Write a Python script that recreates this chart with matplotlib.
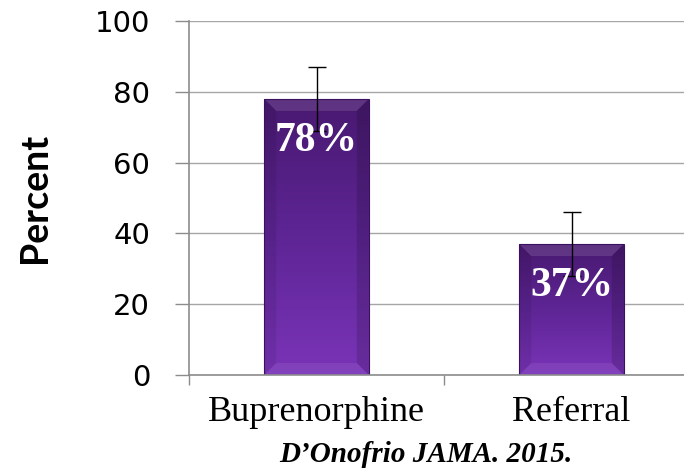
import numpy as np
import matplotlib
matplotlib.use("Agg")
import matplotlib.pyplot as plt
from matplotlib.patches import Polygon
from matplotlib.colors import LinearSegmentedColormap

# data
categories = ["Buprenorphine", "Referral"]
percent = [78, 37]
errors = [9, 9]
y_ticks = [0, 20, 40, 60, 80, 100]
source = "D\u2019Onofrio JAMA. 2015."

fig = plt.figure(figsize=(6.84, 4.74), dpi=100)
ax = fig.add_axes([189 / 684, 99 / 474, 510 / 684, 354 / 474])

x = np.arange(len(categories))
bar_width = 0.41
bars = ax.bar(x, percent, width=bar_width, color="#5e2490", edgecolor="#3a1060",
              linewidth=0.8, zorder=2)

ax.set_xlim(-0.5, 1.5)
ax.set_ylim(0, 100)

# purple vertical gradient inside each bar, dark at top, light at bottom
cmap = LinearSegmentedColormap.from_list("purp", ["#481970", "#5e2595", "#7a34b8"])
grad = np.linspace(0, 1, 256).reshape(-1, 1)
for b in bars:
    x0, w, h = b.get_x(), b.get_width(), b.get_height()
    im = ax.imshow(grad, cmap=cmap, aspect="auto", extent=(x0, x0 + w, 0, h),
                   origin="upper", zorder=2.1)
    im.set_clip_path(b)
    # bevel edges
    dx = 12 * 2 / 510
    dy = 12 * 100 / 354
    top = Polygon([(x0, h), (x0 + w, h), (x0 + w - dx, h - dy), (x0 + dx, h - dy)],
                  closed=True, facecolor="white", alpha=0.12, lw=0, zorder=2.2)
    left = Polygon([(x0, h), (x0 + dx, h - dy), (x0 + dx, dy), (x0, 0)],
                   closed=True, facecolor="black", alpha=0.08, lw=0, zorder=2.2)
    right = Polygon([(x0 + w, h), (x0 + w - dx, h - dy), (x0 + w - dx, dy), (x0 + w, 0)],
                    closed=True, facecolor="black", alpha=0.14, lw=0, zorder=2.2)
    bottom = Polygon([(x0, 0), (x0 + w, 0), (x0 + w - dx, dy), (x0 + dx, dy)],
                     closed=True, facecolor="white", alpha=0.07, lw=0, zorder=2.2)
    for p in (top, left, right, bottom):
        ax.add_patch(p)
    b.set_facecolor("none")
    b.set_zorder(2.3)

ax.errorbar(x, percent, yerr=errors, fmt="none", ecolor="black", elinewidth=1,
            capsize=6.5, capthick=1, zorder=3)

for xi, v in zip(x, percent):
    ax.text(xi, v - 12, f"{v}%", ha="center", va="center", color="white",
            fontsize=30, fontweight="bold", family="Liberation Serif", zorder=4)

# axes styling
grey = "#8c8c8c"
ax.yaxis.grid(True, color="#a6a6a6", linewidth=1, zorder=0)
ax.set_axisbelow(True)
for s in ("top", "right"):
    ax.spines[s].set_visible(False)
ax.spines["left"].set_color(grey)
ax.spines["bottom"].set_color(grey)
ax.spines["left"].set_linewidth(1.2)
ax.spines["bottom"].set_linewidth(1.2)

ax.set_yticks(y_ticks)
ax.tick_params(axis="y", direction="out", length=10, width=1, color=grey,
               labelsize=21, pad=18)
for lab in ax.get_yticklabels():
    lab.set_family("DejaVu Sans")

ax.set_xticks([-0.5, 0.5, 1.5])
ax.set_xticklabels([])
ax.tick_params(axis="x", which="major", direction="out", length=7, width=1, color=grey)
ax.set_xticks(x, minor=True)
ax.set_xticklabels(categories, minor=True, family="Liberation Serif", fontsize=26)
ax.tick_params(axis="x", which="minor", length=0, pad=15)

ax.set_ylabel("Percent", fontsize=27, fontweight="bold", family="Lato", labelpad=31)

fig.text(426 / 684, 1 - 455 / 474, source, ha="center", va="center",
         family="Liberation Serif", fontsize=21, fontweight="bold", style="italic")

fig.savefig("out.png", dpi=100)
